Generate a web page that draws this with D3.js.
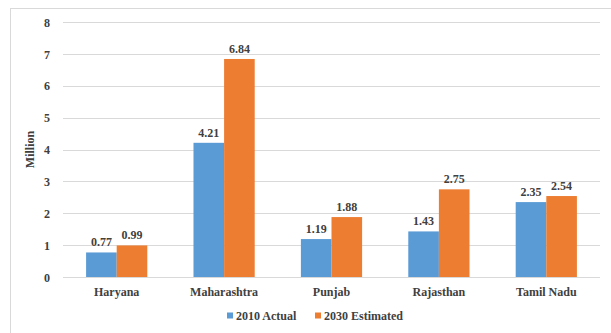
<!DOCTYPE html>
<html>
<head>
<meta charset="utf-8">
<script src="https://cdn.jsdelivr.net/npm/d3@7"></script>
<style>
  html, body { margin: 0; padding: 0; background: #fff; }
  svg { display: block; }
</style>
</head>
<body>
<svg id="chart" width="611" height="333"></svg>
<script>
const states = ["Haryana", "Maharashtra", "Punjab", "Rajasthan", "Tamil Nadu"];
const seriesNames = ["2010 Actual", "2030 Estimated"];
const actual2010 = [0.77, 4.21, 1.19, 1.43, 2.35];
const estimated2030 = [0.99, 6.84, 1.88, 2.75, 2.54];
const yTicks = [0, 1, 2, 3, 4, 5, 6, 7, 8];
const colors = ["#5B9BD5", "#ED7D31"];
const FONT = "'Liberation Serif', 'Times New Roman', 'DejaVu Serif', serif";

const svg = d3.select("#chart");
const margin = { left: 63, right: 11, top: 22, bottom: 56 };
const W = 611, H = 333;

function styleText(sel, size) {
  sel.style("font-family", FONT).style("font-weight", "bold")
    .style("font-size", size + "px").style("fill", "#404040");
}

// chart frame
svg.append("rect")
  .attr("x", 10.5).attr("y", 8.5)
  .attr("width", 620).attr("height", 340)
  .attr("fill", "none").attr("stroke", "#d9d9d9");

const x = d3.scaleBand().domain(states)
  .range([margin.left, W - margin.right])
  .paddingInner(0.43).paddingOuter(0.215);
const x1 = d3.scaleBand().domain(seriesNames).range([0, x.bandwidth()]);
const y = d3.scaleLinear().domain([0, 8]).range([H - margin.bottom, margin.top]);

// gridlines
svg.append("g").selectAll("line").data(yTicks).join("line")
  .attr("x1", margin.left).attr("x2", W - margin.right)
  .attr("y1", d => Math.round(y(d)) + 0.5).attr("y2", d => Math.round(y(d)) + 0.5)
  .attr("stroke", "#d9d9d9").attr("stroke-width", 1.2);

// y axis labels
const yAxis = d3.axisLeft(y).tickValues(yTicks).tickSize(0).tickPadding(0);
const gy = svg.append("g").attr("transform", `translate(${margin.left - 13},0)`).call(yAxis);
gy.select(".domain").remove();
gy.selectAll("text").call(styleText, 12).attr("text-anchor", "end").attr("dy", "0.35em");

// x axis labels
const xAxis = d3.axisBottom(x).tickSize(0).tickPadding(0);
const gx = svg.append("g").attr("transform", `translate(0,${y(0) + 15})`).call(xAxis);
gx.select(".domain").remove();
gx.selectAll("text").call(styleText, 12).attr("dy", "0.35em");

// y axis title
svg.append("text")
  .attr("transform", `translate(34,${(y(0) + y(8)) / 2}) rotate(-90)`)
  .attr("text-anchor", "middle").call(styleText, 12).text("Million");

const data = states.map((s, i) => ({ state: s, values: [actual2010[i], estimated2030[i]] }));

const groups = svg.append("g").selectAll("g").data(data).join("g")
  .attr("transform", d => `translate(${x(d.state)},0)`);

groups.selectAll("rect").data(d => d.values.map((v, j) => ({ key: seriesNames[j], v, j })))
  .join("rect")
  .attr("x", d => x1(d.key))
  .attr("width", x1.bandwidth())
  .attr("y", d => y(d.v))
  .attr("height", d => y(0) - y(d.v))
  .attr("fill", d => colors[d.j]);

groups.selectAll("text.val").data(d => d.values.map((v, j) => ({ key: seriesNames[j], v, j })))
  .join("text").attr("class", "val")
  .attr("x", d => x1(d.key) + x1.bandwidth() / 2)
  .attr("y", d => y(d.v) - 6)
  .attr("text-anchor", "middle").call(styleText, 12)
  .text(d => d.v.toFixed(2));

// legend
const legend = svg.append("g").attr("transform", "translate(0,316)");
const legendX = [227, 315];
seriesNames.forEach((n, i) => {
  legend.append("rect").attr("x", legendX[i]).attr("y", -3.5).attr("width", 6).attr("height", 6).attr("fill", colors[i]);
  legend.append("text").attr("x", legendX[i] + 9).attr("y", 0).attr("dy", "0.35em")
    .call(styleText, 12).text(n);
});
</script>
</body>
</html>
